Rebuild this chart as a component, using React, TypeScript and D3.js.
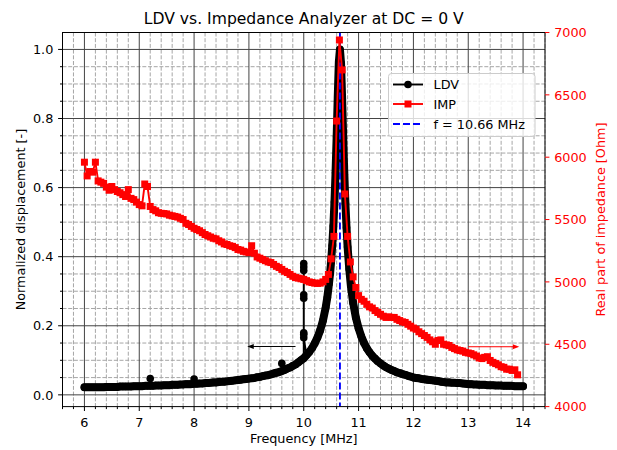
import React, { useEffect, useRef } from "react";
import * as d3 from "d3";

// LDV sweep, normalized displacement
const ldvFreq = [
  6.00, 6.05, 6.10, 6.15, 6.20, 6.25, 6.30, 6.35, 6.40, 6.45,
  6.50, 6.55, 6.60, 6.65, 6.70, 6.75, 6.80, 6.85, 6.90, 6.95,
  7.00, 7.05, 7.10, 7.15, 7.20, 7.25, 7.30, 7.35, 7.40, 7.45,
  7.50, 7.55, 7.60, 7.65, 7.70, 7.75, 7.80, 7.85, 7.90, 7.95,
  8.00, 8.05, 8.10, 8.15, 8.20, 8.25, 8.30, 8.35, 8.40, 8.45,
  8.50, 8.55, 8.60, 8.65, 8.70, 8.75, 8.80, 8.85, 8.90, 8.95,
  9.00, 9.05, 9.10, 9.15, 9.20, 9.25, 9.30, 9.35, 9.40, 9.45,
  9.50, 9.55, 9.60, 9.65, 9.70, 9.75, 9.80, 9.85, 9.90, 9.95,
  10.00, 10.05, 10.10, 10.15, 10.20, 10.25, 10.30, 10.35, 10.40, 10.43,
  10.46, 10.48, 10.50, 10.52, 10.54, 10.56, 10.58, 10.60, 10.62, 10.64,
  10.66, 10.68, 10.70, 10.72, 10.74, 10.76, 10.78, 10.80, 10.83, 10.86,
  10.90, 10.95, 11.00, 11.05, 11.10, 11.15, 11.20, 11.25, 11.30, 11.35,
  11.40, 11.45, 11.50, 11.55, 11.60, 11.65, 11.70, 11.75, 11.80, 11.85,
  11.90, 11.95, 12.00, 12.05, 12.10, 12.15, 12.20, 12.25, 12.30, 12.35,
  12.40, 12.45, 12.50, 12.55, 12.60, 12.65, 12.70, 12.75, 12.80, 12.85,
  12.90, 12.95, 13.00, 13.05, 13.10, 13.15, 13.20, 13.25, 13.30, 13.35,
  13.40, 13.45, 13.50, 13.55, 13.60, 13.65, 13.70, 13.75, 13.80, 13.85,
  13.90, 13.95, 14.00,
];
const ldvVal = [
  0.022, 0.022, 0.022, 0.022, 0.022, 0.022, 0.022, 0.022, 0.023, 0.023,
  0.023, 0.023, 0.023, 0.024, 0.024, 0.024, 0.024, 0.024, 0.025, 0.025,
  0.025, 0.025, 0.026, 0.026, 0.026, 0.026, 0.027, 0.027, 0.027, 0.028,
  0.028, 0.028, 0.029, 0.029, 0.029, 0.030, 0.030, 0.031, 0.031, 0.031,
  0.032, 0.032, 0.033, 0.033, 0.034, 0.034, 0.035, 0.036, 0.036, 0.037,
  0.038, 0.038, 0.039, 0.040, 0.041, 0.042, 0.043, 0.044, 0.045, 0.046,
  0.047, 0.048, 0.049, 0.051, 0.052, 0.054, 0.056, 0.057, 0.059, 0.062,
  0.064, 0.066, 0.069, 0.072, 0.076, 0.079, 0.084, 0.088, 0.094, 0.100,
  0.106, 0.115, 0.124, 0.135, 0.149, 0.166, 0.187, 0.215, 0.253, 0.282,
  0.322, 0.351, 0.388, 0.433, 0.489, 0.558, 0.643, 0.747, 0.862, 0.964,
  1.000, 0.960, 0.857, 0.742, 0.638, 0.553, 0.484, 0.428, 0.364, 0.315,
  0.267, 0.224, 0.193, 0.169, 0.150, 0.135, 0.123, 0.113, 0.105, 0.097,
  0.091, 0.085, 0.080, 0.076, 0.072, 0.069, 0.065, 0.063, 0.060, 0.058,
  0.055, 0.053, 0.050, 0.049, 0.048, 0.046, 0.045, 0.044, 0.043, 0.042,
  0.041, 0.040, 0.038, 0.037, 0.036, 0.036, 0.035, 0.035, 0.034, 0.034,
  0.033, 0.032, 0.031, 0.031, 0.030, 0.030, 0.029, 0.029, 0.029, 0.028,
  0.028, 0.028, 0.027, 0.027, 0.027, 0.026, 0.026, 0.026, 0.026, 0.025,
  0.025, 0.025, 0.025,
];
// glitch readings of the LDV sweep (extra points at these frequencies)
const spikeFreq = [7.2, 8.0, 9.6, 10.0, 10.0, 10.0, 10.0, 10.0, 10.0, 10.0, 10.0];
const spikeVal = [0.047, 0.046, 0.091, 0.38, 0.37, 0.36, 0.29, 0.28, 0.18, 0.175, 0.165];

// impedance analyzer, real part [Ohm]
const impFreq = [
  6.00, 6.05, 6.10, 6.15, 6.20, 6.25, 6.30, 6.35, 6.40, 6.45,
  6.50, 6.55, 6.60, 6.65, 6.70, 6.75, 6.80, 6.85, 6.90, 6.95,
  7.00, 7.05, 7.10, 7.15, 7.20, 7.25, 7.30, 7.35, 7.40, 7.45,
  7.50, 7.55, 7.60, 7.65, 7.70, 7.75, 7.80, 7.85, 7.90, 7.95,
  8.00, 8.05, 8.10, 8.15, 8.20, 8.25, 8.30, 8.35, 8.40, 8.45,
  8.50, 8.55, 8.60, 8.65, 8.70, 8.75, 8.80, 8.85, 8.90, 8.95,
  9.00, 9.05, 9.10, 9.15, 9.20, 9.25, 9.30, 9.35, 9.40, 9.45,
  9.50, 9.55, 9.60, 9.65, 9.70, 9.75, 9.80, 9.85, 9.90, 9.95,
  10.00, 10.05, 10.10, 10.15, 10.20, 10.25, 10.30, 10.35, 10.40, 10.45,
  10.50, 10.55, 10.60, 10.65, 10.70, 10.75, 10.80, 10.85, 10.90, 10.95,
  11.00, 11.05, 11.10, 11.15, 11.20, 11.25, 11.30, 11.35, 11.40, 11.45,
  11.50, 11.55, 11.60, 11.65, 11.70, 11.75, 11.80, 11.85, 11.90, 11.95,
  12.00, 12.05, 12.10, 12.15, 12.20, 12.25, 12.30, 12.35, 12.40, 12.45,
  12.50, 12.55, 12.60, 12.65, 12.70, 12.75, 12.80, 12.85, 12.90, 12.95,
  13.00, 13.05, 13.10, 13.15, 13.20, 13.25, 13.30, 13.35, 13.40, 13.45,
  13.50, 13.55, 13.60, 13.65, 13.70, 13.75, 13.80, 13.85, 13.90,
];
const impVal = [
  5960, 5850, 5885, 5880, 5960, 5810, 5800, 5790, 5760, 5735,
  5765, 5740, 5725, 5715, 5700, 5685, 5740, 5670, 5660, 5640,
  5620, 5610, 5785, 5765, 5605, 5580, 5570, 5555, 5550, 5548,
  5545, 5535, 5530, 5525, 5520, 5510, 5500, 5470, 5460, 5445,
  5430, 5420, 5410, 5395, 5380, 5370, 5360, 5350, 5345, 5330,
  5320, 5305, 5300, 5290, 5285, 5275, 5260, 5255, 5245, 5240,
  5235, 5290, 5230, 5200, 5190, 5180, 5170, 5160, 5155, 5140,
  5125, 5115, 5100, 5085, 5075, 5060, 5045, 5035, 5030, 5025,
  5020, 5010, 5000, 4995, 4990, 4988, 4990, 5000, 5020, 5060,
  5185, 5365, 6290, 6940, 6700, 5705, 5365, 5160, 5040, 4955,
  4890, 4860, 4845, 4820, 4800, 4790, 4770, 4755, 4740, 4725,
  4715, 4720, 4715, 4715, 4700, 4690, 4680, 4675, 4660, 4645,
  4630, 4620, 4600, 4585, 4570, 4555, 4535, 4520, 4500, 4530,
  4535, 4500, 4495, 4490, 4475, 4465, 4455, 4450, 4445, 4435,
  4430, 4425, 4415, 4405, 4390, 4385, 4395, 4400, 4370, 4355,
  4345, 4335, 4320, 4315, 4300, 4300, 4290, 4295, 4255,
];

const resonance = 10.66;
const xTicks = [6, 7, 8, 9, 10, 11, 12, 13, 14];
const yLeftTicks = [0, 0.2, 0.4, 0.6, 0.8, 1.0];
const yRightTicks = [4000, 4500, 5000, 5500, 6000, 6500, 7000];

// arrows pointing at the axis each curve belongs to
const ldvArrow = { from: 9.85, to: 8.97, y: 0.14 };
const impArrow = { from: 13.0, to: 13.93, y: 4480 };

const FONT = "DejaVu Sans";

export default function App() {
  const ref = useRef(null);

  useEffect(() => {
    const svg = d3.select(ref.current);
    svg.selectAll("*").remove();

    const left = 62.5, right = 545, top = 32.5, bottom = 406.6;
    const x = d3.scaleLinear().domain([5.6, 14.4]).range([left, right]);
    const yL = d3.scaleLinear().domain([-0.034, 1.049]).range([bottom, top]);
    const yR = d3.scaleLinear().domain([4000, 7000]).range([bottom, top]);

    svg.append("rect").attr("width", 617).attr("height", 450).attr("fill", "#fff");

    svg.append("defs").append("clipPath").attr("id", "plot")
      .append("rect").attr("x", left).attr("y", top)
      .attr("width", right - left).attr("height", bottom - top);

    // grid
    const isMajor = (v, step) => Math.abs(v / step - Math.round(v / step)) < 1e-6;
    const minorX = x.ticks(44).filter(t => !isMajor(t, 1));
    const minorY = yL.ticks(20).filter(t => !isMajor(t, 0.2));
    const grid = svg.append("g");
    grid.selectAll("line.mx").data(minorX).enter().append("line")
      .attr("x1", d => x(d)).attr("x2", d => x(d)).attr("y1", top).attr("y2", bottom)
      .attr("stroke", "#a6a6a6").attr("stroke-dasharray", "4,1.7");
    grid.selectAll("line.my").data(minorY).enter().append("line")
      .attr("x1", left).attr("x2", right).attr("y1", d => yL(d)).attr("y2", d => yL(d))
      .attr("stroke", "#a6a6a6").attr("stroke-dasharray", "4,1.7");
    grid.selectAll("line.Mx").data(xTicks).enter().append("line")
      .attr("x1", d => x(d)).attr("x2", d => x(d)).attr("y1", top).attr("y2", bottom)
      .attr("stroke", "#444");
    grid.selectAll("line.My").data(yLeftTicks).enter().append("line")
      .attr("x1", left).attr("x2", right).attr("y1", d => yL(d)).attr("y2", d => yL(d))
      .attr("stroke", "#444");

    const plot = svg.append("g").attr("clip-path", "url(#plot)");

    // LDV: dense sweep drawn as a marker-wide band, thin trace through the glitches
    const ldv = ldvFreq.map((f, i) => [f, ldvVal[i]]);
    const trace = [];
    ldv.forEach(p => {
      trace.push(p);
      spikeFreq.forEach((f, j) => { if (f === p[0]) trace.push([f, spikeVal[j]]); });
    });
    const lineL = d3.line().x(d => x(d[0])).y(d => yL(d[1]));
    plot.append("path").attr("d", lineL(ldv)).attr("fill", "none")
      .attr("stroke", "#000").attr("stroke-width", 8)
      .attr("stroke-linejoin", "round").attr("stroke-linecap", "round");
    plot.append("path").attr("d", lineL(trace)).attr("fill", "none")
      .attr("stroke", "#000").attr("stroke-width", 1.9);
    plot.selectAll("circle.ldv").data(trace).enter().append("circle")
      .attr("cx", d => x(d[0])).attr("cy", d => yL(d[1])).attr("r", 3.8).attr("fill", "#000");

    // resonance line
    plot.append("line").attr("x1", x(resonance)).attr("x2", x(resonance))
      .attr("y1", top).attr("y2", bottom)
      .attr("stroke", "#0000ff").attr("stroke-width", 1.9).attr("stroke-dasharray", "7,3");

    // impedance
    const imp = impFreq.map((f, i) => [f, impVal[i]]);
    const lineR = d3.line().x(d => x(d[0])).y(d => yR(d[1]));
    plot.append("path").attr("d", lineR(imp)).attr("fill", "none")
      .attr("stroke", "#ff0000").attr("stroke-width", 1.9);
    const sq = 7;
    plot.selectAll("rect.imp").data(imp).enter().append("rect")
      .attr("x", d => x(d[0]) - sq / 2).attr("y", d => yR(d[1]) - sq / 2)
      .attr("width", sq).attr("height", sq).attr("fill", "#ff0000");

    // arrows
    const arrow = (x1, x2, y, color) => {
      const dir = Math.sign(x2 - x1);
      svg.append("line").attr("x1", x1).attr("x2", x2 - dir * 5).attr("y1", y).attr("y2", y)
        .attr("stroke", color).attr("stroke-width", 1);
      svg.append("path")
        .attr("d", `M${x2},${y} L${x2 - dir * 6.5},${y - 2.6} L${x2 - dir * 6.5},${y + 2.6} Z`)
        .attr("fill", color);
    };
    arrow(x(ldvArrow.from), x(ldvArrow.to), yL(ldvArrow.y), "#000");
    arrow(x(impArrow.from), x(impArrow.to), yR(impArrow.y), "#ff0000");

    // spines
    svg.append("rect").attr("x", left).attr("y", top)
      .attr("width", right - left).attr("height", bottom - top)
      .attr("fill", "none").attr("stroke", "#000").attr("stroke-width", 1);

    const txt = (px, py, s, anchor, size, color = "#000") =>
      svg.append("text").attr("x", px).attr("y", py).attr("text-anchor", anchor)
        .attr("font-family", FONT).attr("font-size", size).attr("fill", color).text(s);

    // bottom axis
    const axes = svg.append("g").attr("stroke", "#000");
    xTicks.forEach(t => {
      axes.append("line").attr("x1", x(t)).attr("x2", x(t)).attr("y1", bottom).attr("y2", bottom + 4.4);
      txt(x(t), bottom + 20.1, d3.format("d")(t), "middle", 12.8);
    });
    minorX.forEach(t => {
      axes.append("line").attr("x1", x(t)).attr("x2", x(t)).attr("y1", bottom).attr("y2", bottom + 2.5);
    });

    // left axis
    yLeftTicks.forEach(t => {
      axes.append("line").attr("x1", left - 4.4).attr("x2", left).attr("y1", yL(t)).attr("y2", yL(t));
      txt(left - 9.2, yL(t) + 4.7, d3.format(".1f")(t), "end", 12.8);
    });
    minorY.forEach(t => {
      axes.append("line").attr("x1", left - 2.5).attr("x2", left).attr("y1", yL(t)).attr("y2", yL(t));
    });

    // right axis
    yRightTicks.forEach(t => {
      svg.append("line").attr("x1", right).attr("x2", right + 4.4).attr("y1", yR(t)).attr("y2", yR(t))
        .attr("stroke", "#ff0000");
      txt(right + 9.2, yR(t) + 4.7, d3.format("d")(t), "start", 12.8, "#ff0000");
    });

    // labels
    const midX = (left + right) / 2, midY = (top + bottom) / 2;
    txt(midX, 24, "LDV vs. Impedance Analyzer at DC = 0 V", "middle", 15.6);
    txt(midX, 442.6, "Frequency [MHz]", "middle", 12.8);
    txt(0, 0, "Normalized displacement [-]", "middle", 12.8)
      .attr("transform", `translate(24.5,${midY}) rotate(-90)`);
    txt(0, 0, "Real part of impedance [Ohm]", "middle", 12.8, "#ff0000")
      .attr("transform", `translate(605,${midY}) rotate(-90)`);

    // legend
    const lg = svg.append("g");
    lg.append("rect").attr("x", 388.5).attr("y", 73.5).attr("width", 146.5).attr("height", 63)
      .attr("rx", 3).attr("fill", "#fff").attr("fill-opacity", 0.8).attr("stroke", "#cccccc");
    const rows = [
      { label: "LDV", color: "#000", marker: "circle", y: 84.5 },
      { label: "IMP", color: "#ff0000", marker: "square", y: 104 },
      { label: `f = ${resonance.toFixed(2)} MHz`, color: "#0000ff", marker: "dash", y: 124 },
    ];
    rows.forEach(r => {
      const l = lg.append("line").attr("x1", 393).attr("x2", 423).attr("y1", r.y).attr("y2", r.y)
        .attr("stroke", r.color).attr("stroke-width", 1.9);
      if (r.marker === "dash") l.attr("stroke-dasharray", "7,3");
      if (r.marker === "circle") lg.append("circle").attr("cx", 408).attr("cy", r.y).attr("r", 3.8).attr("fill", r.color);
      if (r.marker === "square") lg.append("rect").attr("x", 408 - sq / 2).attr("y", r.y - sq / 2)
        .attr("width", sq).attr("height", sq).attr("fill", r.color);
      lg.append("text").attr("x", 433.5).attr("y", r.y + 4.7).attr("font-family", FONT)
        .attr("font-size", 12.8).attr("fill", "#000").text(r.label);
    });
  }, []);

  return (
    <svg ref={ref} width={617} height={450}
      style={{ position: "absolute", left: 0, top: 0, display: "block" }} />
  );
}
